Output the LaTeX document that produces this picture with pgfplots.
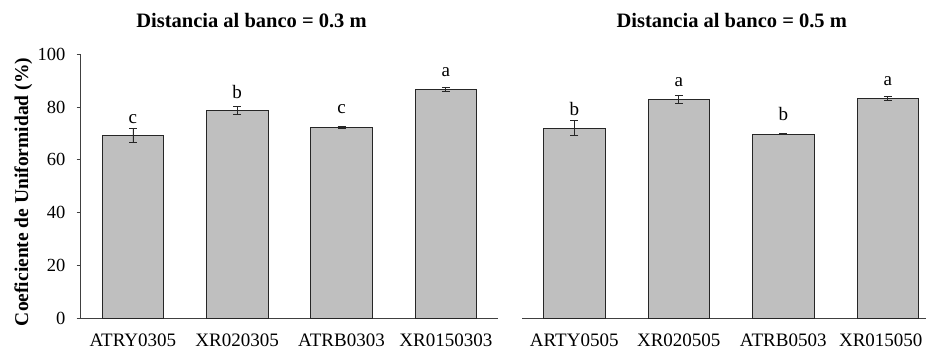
\documentclass[border=0pt]{standalone}
\usepackage{fontspec}
\setmainfont{Liberation Serif}
\usepackage{pgfplots}
\pgfplotsset{compat=1.18}
\definecolor{barfill}{RGB}{191,191,191}
\definecolor{axisgray}{RGB}{64,64,64}
\newcommand{\tickfont}{\fontsize{18.5}{20}\selectfont}
\newcommand{\catfont}{\fontsize{19}{21}\selectfont}
\pgfplotsset{
  cuplot/.style={
    scale only axis, height=264pt,
    ymin=0, ymax=100,
    ybar, bar width=61.5pt,
    axis x line*=bottom,
    axis line style={-, draw=axisgray, line width=0.9pt},
    xtick style={draw=none},
    xticklabel style={font=\catfont, inner sep=0pt, anchor=north, yshift=-11.5pt},
    /pgf/number format/assume math mode=true,
    clip=false,
  },
  cubar/.style={fill=barfill, draw=black!85, line width=0.6pt,
    error bars/.cd, y dir=both, y explicit,
    error bar style={black!85, line width=0.7pt},
    error mark options={rotate=90, mark size=4pt, black!85, line width=0.7pt}},
}
\begin{document}
\begin{tikzpicture}[x=1pt,y=1pt]
\useasboundingbox (0,0) rectangle (926,349);
% left panel
\begin{axis}[cuplot,
  at={(80.7pt,30.7pt)}, anchor=south west, width=417.3pt,
  xmin=-0.5, xmax=3.5,
  axis y line*=left,
  ytick={0,20,40,60,80,100},
  ytick style={draw=axisgray, line width=0.9pt},
  tick align=outside, major tick length=4pt,
  yticklabel style={font=\tickfont, inner sep=0pt, anchor=east, xshift=-11pt},
  xtick={0,1,2,3},
  xticklabels={ATRY0305,XR020305,ATRB0303,XR0150303},
]
\addplot[cubar] coordinates {
  (0,69.2) +- (0,2.6)
  (1,78.8) +- (0,1.6)
  (2,72.3) +- (0,0.4)
  (3,86.7) +- (0,0.8)
};
\node[anchor=base, font=\catfont] at (axis cs:0,73.6) {c};
\node[anchor=base, font=\catfont] at (axis cs:1,83.3) {b};
\node[anchor=base, font=\catfont] at (axis cs:2,77.4) {c};
\node[anchor=base, font=\catfont] at (axis cs:3,91.5) {a};
\end{axis}
% right panel
\begin{axis}[cuplot,
  at={(522pt,30.7pt)}, anchor=south west, width=404pt,
  xmin=-0.5, xmax=3.366,
  axis y line=none,
  xtick={0,1,2,2.933},
  xticklabels={ARTY0505,XR020505,ATRB0503,XR015050},
]
\addplot[cubar] coordinates {
  (0,72.0) +- (0,2.8)
  (1,82.9) +- (0,1.6)
  (2,69.8) +- (0,0.25)
  (3,83.3) +- (0,0.8)
};
\node[anchor=base, font=\catfont] at (axis cs:0,76.7) {b};
\node[anchor=base, font=\catfont] at (axis cs:1,87.7) {a};
\node[anchor=base, font=\catfont] at (axis cs:2,74.8) {b};
\node[anchor=base, font=\catfont] at (axis cs:3,88.0) {a};
\end{axis}
% titles and y label
\node[anchor=base, font=\fontsize{20.5}{24}\selectfont\bfseries] at (251.5,321.7) {Distancia al banco = 0.3 m};
\node[anchor=base, font=\fontsize{20.5}{24}\selectfont\bfseries] at (731.7,321.7) {Distancia al banco = 0.5 m};
\node[rotate=90, font=\fontsize{19.5}{22}\selectfont\bfseries] at (23.3,157) {Coeficiente de Uniformidad (\%)};
\end{tikzpicture}
\end{document}
